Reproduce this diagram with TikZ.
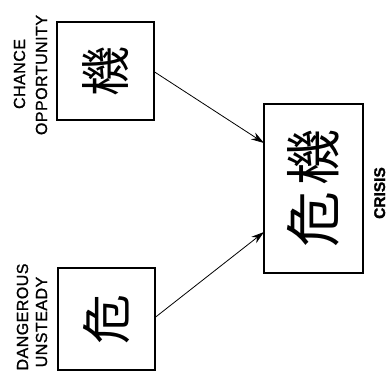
\documentclass[tikz,border=0pt]{standalone}
\usepackage{fontspec}
\setmainfont{Liberation Sans}
\newfontfamily\lblfont[FakeBold=1.2,LetterSpace=3]{Liberation Sans}
\newfontfamily\crisisfont[BoldFeatures={FakeBold=1.5}]{Liberation Sans}
\newfontfamily\cjk{Noto Sans CJK JP}
\usetikzlibrary{arrows.meta}
\begin{document}
\begin{tikzpicture}[x=1pt,y=-1pt,
  charbox/.style={draw,line width=1.3pt,inner sep=0pt},
  lbl/.style={rotate=90,font=\lblfont\fontsize{16}{18}\selectfont,inner sep=0pt,anchor=base},
  conn/.style={line width=0.8pt,-{Stealth[length=13pt,width=8pt]}},
  kanji/.style={rotate=90,font=\cjk\fontsize{50}{50}\selectfont,inner sep=0pt}]
\useasboundingbox (0,0) rectangle (390,376);
\node[charbox,minimum width=97pt,minimum height=98pt] (chance) at (105.5,71) {};
\node[kanji] (k1) at (chance.center) {機};
\node[charbox,minimum width=97pt,minimum height=102pt] (danger) at (106.5,319) {};
\node[kanji] (k2) at (danger.center) {危};
\node[charbox,minimum width=99pt,minimum height=169pt] (crisis) at (313.5,188.5) {};
\node[kanji,font=\cjk\fontsize{56}{56}\selectfont] (k3) at (crisis.center) {危\hspace{6pt}機};
\node[lbl] (l1) at (25,74) {CHANCE};
\node[lbl] (l2) at (47,75) {OPPORTUNITY};
\node[lbl] (l3) at (28,317) {DANGEROUS};
\node[lbl] (l4) at (47,322) {UNSTEADY};
\node[lbl,font=\crisisfont\bfseries\fontsize{15.5}{18}\selectfont] (l5) at (385,193) {CRISIS};
\coordinate (a1) at (264,143);
\coordinate (a2) at (264,232);
\draw[conn] (chance.east |- 0,72) -- (a1);
\draw[conn] (danger.east |- 0,317) -- (a2);
\end{tikzpicture}
\end{document}
